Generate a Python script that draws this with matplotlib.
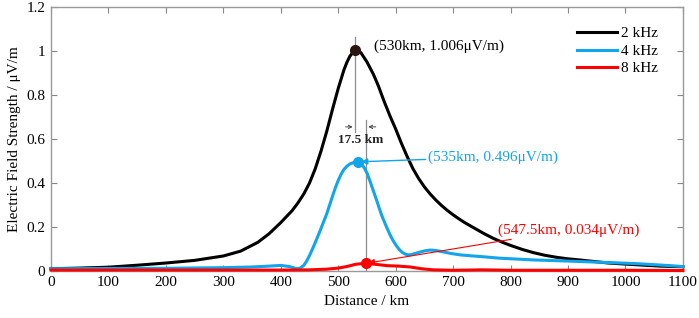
import numpy as np
import matplotlib
matplotlib.use("Agg")
import matplotlib.pyplot as plt

plt.rcParams['font.family'] = ['Liberation Serif', 'DejaVu Serif']

# 2 kHz
x_2k = [0, 50, 100, 150, 200, 250, 300, 330, 360, 380, 400, 420, 430, 440, 450,
        460, 470, 480, 490, 500, 510, 515, 520, 525, 530, 535, 540, 545, 550, 555,
        561, 566, 570, 575, 580, 590, 600, 610, 620, 630, 640, 650, 660, 670, 680,
        690, 700, 710, 720, 740, 755, 770, 785, 800, 820, 840, 860, 880, 900, 920,
        945, 970, 995, 1020, 1060, 1100]
y_2k = [0.010, 0.013, 0.017, 0.026, 0.036, 0.048, 0.068, 0.09, 0.13, 0.17, 0.22,
        0.275, 0.31, 0.35, 0.40, 0.465, 0.545, 0.635, 0.735, 0.83, 0.915, 0.948,
        0.975, 0.993, 1.006, 1.002, 0.99, 0.97, 0.95, 0.925, 0.895, 0.865, 0.84,
        0.805, 0.77, 0.705, 0.645, 0.58, 0.52, 0.465, 0.42, 0.382, 0.35, 0.322,
        0.297, 0.275, 0.255, 0.237, 0.22, 0.19, 0.168, 0.148, 0.131, 0.116, 0.098,
        0.083, 0.071, 0.062, 0.055, 0.05, 0.043, 0.036, 0.032, 0.028, 0.022, 0.019]

# 4 kHz
x_4k = [0, 100, 200, 300, 350, 380, 400, 415, 428, 434, 440, 445, 450, 456, 462,
        468, 474, 480, 485, 490, 495, 500, 505, 510, 515, 520, 527, 535, 540, 545,
        550, 555, 561, 567, 572, 576, 580, 584, 590, 595, 601, 607, 612, 617, 622,
        627, 632, 640, 650, 660, 670, 680, 695, 712, 730, 750, 781, 840, 898, 950,
        1013, 1060, 1100]
y_4k = [0.010, 0.011, 0.012, 0.015, 0.018, 0.022, 0.025, 0.02, 0.01, 0.013, 0.025,
        0.045, 0.07, 0.105, 0.142, 0.18, 0.22, 0.26, 0.30, 0.34, 0.378, 0.412, 0.44,
        0.462, 0.476, 0.486, 0.493, 0.496, 0.488, 0.47, 0.445, 0.41, 0.365, 0.32,
        0.28, 0.25, 0.225, 0.20, 0.165, 0.14, 0.115, 0.095, 0.083, 0.076, 0.073,
        0.074, 0.078, 0.084, 0.091, 0.095, 0.093, 0.088, 0.08, 0.073, 0.069, 0.065,
        0.058, 0.05, 0.045, 0.04, 0.034, 0.027, 0.02]

# 8 kHz
x_8k = [0, 200, 400, 450, 480, 500, 515, 530, 540, 547.5, 555, 565, 585, 605, 625,
        645, 665, 700, 750, 800, 900, 1000, 1100]
y_8k = [0.004, 0.004, 0.004, 0.005, 0.008, 0.013, 0.02, 0.03, 0.033, 0.034, 0.033,
        0.03, 0.024, 0.022, 0.018, 0.01, 0.005, 0.003, 0.005, 0.003, 0.003, 0.003,
        0.002]

peaks_x = [530, 535, 547.5]
peaks_y = [1.006, 0.496, 0.034]
peak_labels = ['(530km, 1.006μV/m)', '(535km, 0.496μV/m)', '(547.5km, 0.034μV/m)']

c_black = '#000000'
c_blue = '#11a5eb'
c_red = '#ff0000'

fig = plt.figure(figsize=(6.99, 3.18), dpi=100)
ax = fig.add_axes([0.073, 0.148, 0.904, 0.830])

ax.plot(x_2k, y_2k, color=c_black, lw=2.2, label='2 kHz', clip_on=False, zorder=3)
ax.plot(x_4k, y_4k, color=c_blue, lw=2.2, label='4 kHz', clip_on=False, zorder=3)
ax.plot(x_8k, y_8k, color=c_red, lw=2.2, label='8 kHz', clip_on=False, zorder=3)

# guide lines and 17.5 km spacing
ax.plot([530, 530], [1.064, 0.63], color='#8c8c8c', lw=0.9, zorder=2)
ax.plot([547.5, 547.5], [0.686, 0.0], color='#8c8c8c', lw=0.9, zorder=2)
ax.annotate('', xy=(530, 0.655), xytext=(508, 0.655),
            arrowprops=dict(arrowstyle='->', color='#444444', lw=0.7, mutation_scale=6))
ax.annotate('', xy=(547.5, 0.655), xytext=(570, 0.655),
            arrowprops=dict(arrowstyle='->', color='#444444', lw=0.7, mutation_scale=6))
ax.text(538.5, 0.597, '17.5 km', ha='center', va='center', fontsize=9.5,
        fontweight='bold', color='#222222', zorder=5)

# peak markers
ax.plot(peaks_x[0], peaks_y[0], 'o', color='#2a1510', ms=7, zorder=4)
ax.plot(peaks_x[1], peaks_y[1], 'o', color=c_blue, ms=7, zorder=4)
ax.plot(peaks_x[2], peaks_y[2], 'o', color=c_red, ms=7, zorder=4)

ax.text(562, 1.023, peak_labels[0], color=c_black, fontsize=11, va='center', ha='left')
ax.annotate(peak_labels[1], xy=(peaks_x[1], peaks_y[1]), xytext=(657, 0.518),
            color=c_blue, fontsize=11, va='center', ha='left',
            arrowprops=dict(arrowstyle='-|>', color=c_blue, lw=1.0, mutation_scale=9,
                            shrinkA=0, shrinkB=2))
ax.annotate(peak_labels[2], xy=(peaks_x[2], peaks_y[2]), xytext=(778, 0.187),
            color=c_red, fontsize=11, va='center', ha='left',
            arrowprops=dict(arrowstyle='-|>', color=c_red, lw=0.8, mutation_scale=9,
                            shrinkA=0, shrinkB=2))

ax.set_xlim(0, 1100)
ax.set_ylim(0, 1.2)
ax.set_xticks(np.arange(0, 1101, 100))
ax.set_yticks([0, 0.2, 0.4, 0.6, 0.8, 1.0, 1.2])
ax.set_yticklabels(['0', '0.2', '0.4', '0.6', '0.8', '1', '1.2'])
ax.tick_params(direction='in', top=True, right=True, labelsize=11, color='#888888',
               length=4, width=0.8, pad=4)
for s in ax.spines.values():
    s.set_color('#999999')
    s.set_linewidth(1.0)

ax.set_xlabel('Distance / km', fontsize=11, labelpad=4)
ax.set_ylabel('Electric Field Strength / μV/m', fontsize=11, labelpad=4)

ax.legend(loc='upper right', frameon=False, fontsize=11, handlelength=2.6,
          handletextpad=0.3, labelspacing=0.25, borderaxespad=0.2,
          bbox_to_anchor=(0.975, 0.96))

fig.savefig('out.png', dpi=100)
